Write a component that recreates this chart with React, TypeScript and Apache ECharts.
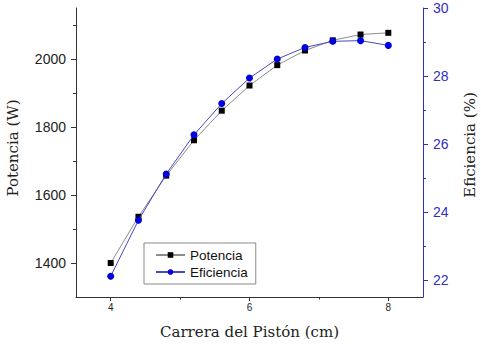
import React, { useEffect, useRef } from "react";
import * as echarts from "echarts";

const carrera = [4.0, 4.4, 4.8, 5.2, 5.6, 6.0, 6.4, 6.8, 7.2, 7.6, 8.0];
const potencia = [1400, 1536, 1657, 1761, 1848, 1922, 1982, 2025, 2055, 2072, 2077];
const eficiencia = [22.11, 23.76, 25.12, 26.27, 27.19, 27.94, 28.5, 28.84, 29.02, 29.04, 28.9];

const xMajor = [4, 6, 8];
const xMinor = [5, 7];
const yLeftMajor = [1400, 1600, 1800, 2000];
const yLeftMinor = [1500, 1700, 1900, 2100];
const yRightMajor = [22, 24, 26, 28, 30];
const yRightMinor = [23, 25, 27, 29];

const BLUE = "#3030c0";
const SANS = "'Liberation Sans', Arial, sans-serif";
const SERIF = "'DejaVu Serif', serif";

export default function App() {
  const ref = useRef<HTMLDivElement>(null);
  useEffect(() => {
    if (!ref.current) return;
    const chart = echarts.init(ref.current, null, { renderer: "svg" });
    const xBase = { type: "value", min: 3.5, max: 8.5, splitLine: { show: false } };
    const yLeftBase = { type: "value", min: 1300, max: 2150, position: "left", splitLine: { show: false } };
    const yRightBase = { type: "value", min: 21.5, max: 30, position: "right", splitLine: { show: false } };
    const plain = (v: number) => String(v);
    chart.setOption({
      animation: false,
      backgroundColor: "#ffffff",
      grid: { left: 76, right: 58, top: 8, bottom: 45, containLabel: false },
      legend: {
        orient: "vertical",
        left: 144,
        top: 243,
        padding: [5, 8, 5, 11],
        itemGap: 3,
        itemWidth: 29,
        itemHeight: 7,
        borderColor: "#8a8a8a",
        borderWidth: 1,
        textStyle: { fontFamily: SANS, fontSize: 13.5, color: "#111" },
        data: ["Potencia", "Eficiencia"],
      },
      graphic: [
        {
          type: "text",
          x: 13,
          y: 148,
          rotation: Math.PI / 2,
          style: { text: "Potencia (W)", font: `15px ${SERIF}`, fill: "#222", align: "center", verticalAlign: "middle" },
        },
        {
          type: "text",
          x: 470,
          y: 145,
          rotation: Math.PI / 2,
          style: { text: "Eficiencia (%)", font: `15px ${SERIF}`, fill: "#222", align: "center", verticalAlign: "middle" },
        },
      ],
      xAxis: [
        {
          ...xBase,
          name: "Carrera del Pistón (cm)",
          nameLocation: "middle",
          nameGap: 27,
          nameTextStyle: { fontFamily: SERIF, fontSize: 15, color: "#222" },
          axisLine: { show: true, lineStyle: { color: "#333", width: 1 } },
          axisTick: { show: true, customValues: xMajor, length: 4, lineStyle: { color: "#333" } },
          axisLabel: { customValues: xMajor, formatter: plain, margin: 5, fontFamily: SANS, fontSize: 10, color: "#222" },
        },
        {
          ...xBase,
          position: "bottom",
          axisLine: { show: false },
          axisTick: { show: true, customValues: xMinor, length: 2.5, lineStyle: { color: "#333" } },
          axisLabel: { show: false },
        },
      ],
      yAxis: [
        {
          ...yLeftBase,
          axisLine: { show: true, lineStyle: { color: "#333", width: 1 } },
          axisTick: { show: true, customValues: yLeftMajor, length: 5, lineStyle: { color: "#333" } },
          axisLabel: { customValues: yLeftMajor, formatter: plain, margin: 10, fontFamily: SANS, fontSize: 14, color: "#222" },
        },
        {
          ...yLeftBase,
          axisLine: { show: false },
          axisTick: { show: true, customValues: yLeftMinor, length: 3, lineStyle: { color: "#333" } },
          axisLabel: { show: false },
        },
        {
          ...yRightBase,
          axisLine: { show: true, lineStyle: { color: BLUE, width: 1 } },
          axisTick: { show: true, customValues: yRightMajor, length: 5, lineStyle: { color: BLUE } },
          axisLabel: { customValues: yRightMajor, formatter: plain, margin: 10, fontFamily: SANS, fontSize: 14, color: BLUE },
        },
        {
          ...yRightBase,
          axisLine: { show: false },
          axisTick: { show: true, customValues: yRightMinor, length: 3, lineStyle: { color: BLUE } },
          axisLabel: { show: false },
        },
      ],
      series: [
        {
          name: "Potencia",
          type: "line",
          xAxisIndex: 0,
          yAxisIndex: 0,
          data: carrera.map((x, i) => [x, potencia[i]]),
          symbol: "rect",
          symbolSize: 6,
          itemStyle: { color: "#000000" },
          lineStyle: { color: "#8c8c8c", width: 1 },
          z: 2,
        },
        {
          name: "Eficiencia",
          type: "line",
          xAxisIndex: 0,
          yAxisIndex: 2,
          data: carrera.map((x, i) => [x, eficiencia[i]]),
          symbol: "circle",
          symbolSize: 7,
          itemStyle: { color: "#0000dd" },
          lineStyle: { color: "#4848c4", width: 1 },
          z: 3,
        },
      ],
    });
    return () => chart.dispose();
  }, []);
  return <div ref={ref} style={{ width: 481, height: 344, position: "absolute", left: 0, top: 0 }} />;
}
